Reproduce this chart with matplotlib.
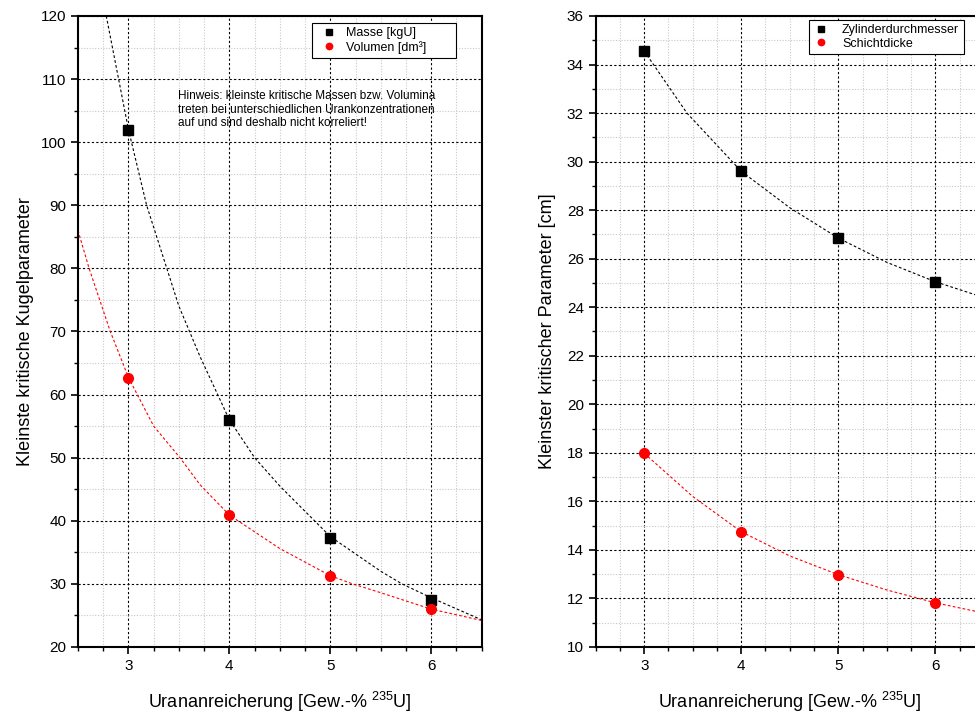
import matplotlib
matplotlib.use("Agg")
import matplotlib.pyplot as plt
from matplotlib.ticker import MultipleLocator

plt.rcParams["font.family"] = ["Liberation Sans", "DejaVu Sans"]
plt.rcParams["mathtext.fontset"] = "custom"
plt.rcParams["mathtext.rm"] = "Liberation Sans"
plt.rcParams["mathtext.it"] = "Liberation Sans"

# measured points
enrich = [3, 4, 5, 6]
masse = [102.0, 56.0, 37.3, 27.5]
volumen = [62.7, 40.9, 31.3, 26.0]
zylinder = [34.55, 29.6, 26.85, 25.05]
schicht = [17.98, 14.75, 12.98, 11.82]

# fit curves
masse_fit_x = [2.78, 3.0, 3.18, 3.5, 3.71, 4.0, 4.25, 4.5, 5.0, 5.5, 5.71, 6.0, 6.5]
masse_fit_y = [120, 102, 90, 74, 66, 56, 50, 45.5, 37.5, 32.0, 30.0, 27.8, 24.3]
vol_fit_x = [2.5, 2.61, 2.82, 3.0, 3.25, 3.51, 3.71, 4.0, 4.5, 5.0, 5.22, 5.5, 6.0, 6.5]
vol_fit_y = [86, 80, 70, 62.7, 55, 50, 45.7, 40.9, 35.6, 31.3, 30.0, 28.6, 26.0, 24.2]
zyl_fit_x = [3.0, 3.44, 4.0, 4.5, 5.0, 5.5, 6.0, 6.5]
zyl_fit_y = [34.55, 32.0, 29.6, 28.1, 26.85, 25.85, 25.05, 24.4]
sch_fit_x = [3.0, 3.5, 4.0, 4.5, 5.0, 5.5, 6.0, 6.5]
sch_fit_y = [17.98, 16.2, 14.75, 13.75, 12.98, 12.35, 11.82, 11.4]

xlabel = r"Urananreicherung [Gew.-% $^{235}$U]"


def style_axes(ax, ylim, ymajor, yminor):
    ax.set_xlim(2.5, 6.5)
    ax.set_ylim(*ylim)
    ax.xaxis.set_major_locator(MultipleLocator(1))
    ax.xaxis.set_minor_locator(MultipleLocator(0.25))
    ax.yaxis.set_major_locator(MultipleLocator(ymajor))
    ax.yaxis.set_minor_locator(MultipleLocator(yminor))
    ax.grid(which="minor", color="#c8c8c8", linestyle=(0, (1, 1.5)), linewidth=0.8)
    ax.grid(which="major", color="black", linestyle=(0, (2, 2)), linewidth=0.8)
    ax.set_axisbelow(True)
    ax.tick_params(which="both", direction="out", labelsize=11, top=False, right=False)
    ax.tick_params(which="major", length=5, width=1.2)
    ax.tick_params(which="minor", length=3, width=1.0)
    for s in ax.spines.values():
        s.set_linewidth(1.5)
    ax.set_xlabel(xlabel, fontsize=13, labelpad=12)


def add_legend(ax, anchor, hlen, hpad):
    leg = ax.legend(loc="upper right", bbox_to_anchor=anchor, fontsize=9, frameon=True,
                    fancybox=False, edgecolor="black", framealpha=1, handlelength=hlen,
                    markerscale=0.65, borderpad=0.35, labelspacing=0.12,
                    handletextpad=hpad, borderaxespad=0)
    leg.get_frame().set_linewidth(0.8)


fig = plt.figure(figsize=(9.75, 7.13), dpi=100)
ax1 = fig.add_axes([0.080, 0.0926, 0.414, 0.885])
ax2 = fig.add_axes([0.611, 0.0926, 0.398, 0.885])

style_axes(ax1, (20, 120), 10, 5)
ax1.plot(masse_fit_x, masse_fit_y, color="black", linestyle=(0, (2.5, 2)), linewidth=0.8)
ax1.plot(vol_fit_x, vol_fit_y, color="red", linestyle=(0, (2.5, 2)), linewidth=0.8)
ax1.plot(enrich, masse, "s", color="black", markersize=6.5, label="Masse [kgU]")
ax1.plot(enrich, volumen, "o", color="red", markersize=7, label="Volumen [dm³]" + " " * 7)
ax1.set_ylabel("Kleinste kritische Kugelparameter", fontsize=13, labelpad=5)
add_legend(ax1, (0.9355, 0.989), 2.0, 0.4)
ax1.text(0.248, 0.883,
         "Hinweis: kleinste kritische Massen bzw. Volumina\n"
         "treten bei unterschiedlichen Urankonzentrationen\n"
         "auf und sind deshalb nicht korreliert!",
         transform=ax1.transAxes, fontsize=8.5, va="top", ha="left", linespacing=1.2)

style_axes(ax2, (10, 36), 2, 1)
ax2.plot(zyl_fit_x, zyl_fit_y, color="black", linestyle=(0, (2.5, 2)), linewidth=0.8)
ax2.plot(sch_fit_x, sch_fit_y, color="red", linestyle=(0, (2.5, 2)), linewidth=0.8)
ax2.plot(enrich, zylinder, "s", color="black", markersize=6.5, label="Zylinderdurchmesser")
ax2.plot(enrich, schicht, "o", color="red", markersize=7, label="Schichtdicke")
ax2.set_ylabel("Kleinster kritischer Parameter [cm]", fontsize=13, labelpad=8)
add_legend(ax2, (0.948, 0.994), 1.3, 1.0)

fig.savefig("out.png", dpi=100)
